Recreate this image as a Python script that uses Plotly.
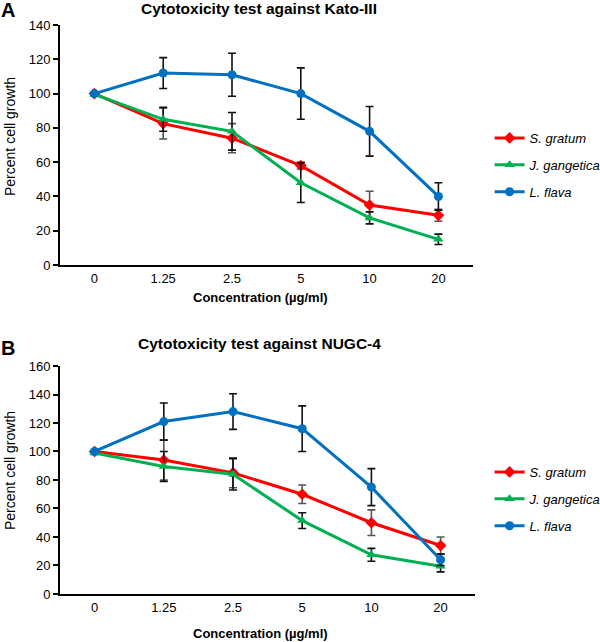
import plotly.graph_objects as go

# concentrations (µg/ml) shown as categories on the x axis
conc = ["0", "1.25", "2.5", "5", "10", "20"]
series_names = ["S. gratum", "J. gangetica", "L. flava"]
series_colors = ["#FF0000", "#00B050", "#0070C0"]
series_symbols = ["diamond", "triangle-up", "circle"]
err_colors = ["#555555", "#111111", "#111111"]

# panel A: Kato-III
kato_gratum = [100, 82.5, 74, 58, 35, 29]
kato_gratum_err = [0, 9, 8.5, 2, 8, 3.5]
kato_gangetica = [99.5, 85, 78, 48, 27.5, 15]
kato_gangetica_err = [0, 7, 11, 11.5, 3.5, 3]
kato_flava = [100, 112, 111, 100, 78, 40]
kato_flava_err = [0, 9, 12.5, 15, 14.5, 8]

# panel B: NUGC-4
nugc_gratum = [100, 94, 85, 70, 50, 34]
nugc_gratum_err = [0, 14, 10.5, 6.5, 9, 6]
nugc_gangetica = [99, 89.5, 84, 51.5, 27.5, 19.5]
nugc_gangetica_err = [0, 10.5, 11, 5.5, 4.5, 4]
nugc_flava = [100, 121, 128, 116, 75, 24]
nugc_flava_err = [0, 13, 12.5, 16, 13, 4]

FONT = "Liberation Sans, Arial, sans-serif"

panels = [
    dict(xa="x", ya="y", legend="legend",
         vals=[kato_gratum, kato_gangetica, kato_flava],
         errs=[kato_gratum_err, kato_gangetica_err, kato_flava_err]),
    dict(xa="x2", ya="y2", legend="legend2",
         vals=[nugc_gratum, nugc_gangetica, nugc_flava],
         errs=[nugc_gratum_err, nugc_gangetica_err, nugc_flava_err]),
]

fig = go.Figure()
for p in panels:
    for i in range(3):
        fig.add_trace(go.Scatter(
            x=conc, y=p["vals"][i],
            xaxis=p["xa"], yaxis=p["ya"],
            mode="lines+markers",
            name=series_names[i],
            legend=p["legend"],
            legendgroup=p["legend"] + str(i),
            line=dict(color=series_colors[i], width=3),
            marker=dict(symbol=series_symbols[i], size=9, color=series_colors[i]),
            error_y=dict(type="data", array=p["errs"][i], visible=True,
                         color=err_colors[i], thickness=1.6, width=4),
        ))

axis_common = dict(showgrid=False, zeroline=False, showline=True, automargin=False,
                   linecolor="black", linewidth=2,
                   tickfont=dict(family=FONT, size=13, color="black"))

legend_common = dict(xanchor="left", yanchor="top",
                     font=dict(family=FONT, size=13, style="italic", color="black"),
                     tracegroupgap=7, bgcolor="rgba(0,0,0,0)")

fig.update_layout(
    width=600, height=642,
    margin=dict(l=0, r=0, t=0, b=0, autoexpand=False),
    paper_bgcolor="white", plot_bgcolor="white",
    font=dict(family=FONT, color="black"),
    xaxis=dict(domain=[0.1, 0.788], anchor="y", type="category",
               range=[-0.5, 5.5], ticks="", **axis_common),
    yaxis=dict(domain=[0.5872, 0.961], anchor="x", range=[0, 140], dtick=20,
               ticks="outside", ticklen=5, tickwidth=2, tickcolor="black",
               **axis_common),
    xaxis2=dict(domain=[0.1, 0.792], anchor="y2", type="category",
                range=[-0.5, 5.5], ticks="", **axis_common),
    yaxis2=dict(domain=[0.0748, 0.4299], anchor="x2", range=[0, 160], dtick=20,
                ticks="outside", ticklen=5, tickwidth=2, tickcolor="black",
                **axis_common),
    legend=dict(x=0.816, y=1 - 123 / 642, **legend_common),
    legend2=dict(x=0.816, y=1 - 457 / 642, **legend_common),
)

texts = [
    ("A", 8, 10, 20, "bold", 0),
    ("B", 8, 348, 20, "bold", 0),
    ("Cytotoxicity test against Kato-III", 259, 9, 15.5, "bold", 0),
    ("Cytotoxicity test against NUGC-4", 259, 343, 15.5, "bold", 0),
    ("Concentration (µg/ml)", 260, 297, 13, "bold", 0),
    ("Concentration (µg/ml)", 260, 633, 13, "bold", 0),
    ("Percent cell growth", 10, 137, 14, "normal", -90),
    ("Percent cell growth", 10, 471, 14, "normal", -90),
]
for t, px, py, size, weight, ang in texts:
    fig.add_annotation(text=t, x=px / 600, y=1 - py / 642, xref="paper", yref="paper",
                       xanchor="center", yanchor="middle", showarrow=False,
                       textangle=ang,
                       font=dict(family=FONT, size=size, weight=weight, color="black"))

# the page's default body margin would push the 600x642 figure off the window
fig.write_html("out.html", config={"displayModeBar": False},
               post_script="document.body.style.margin = '0';")
